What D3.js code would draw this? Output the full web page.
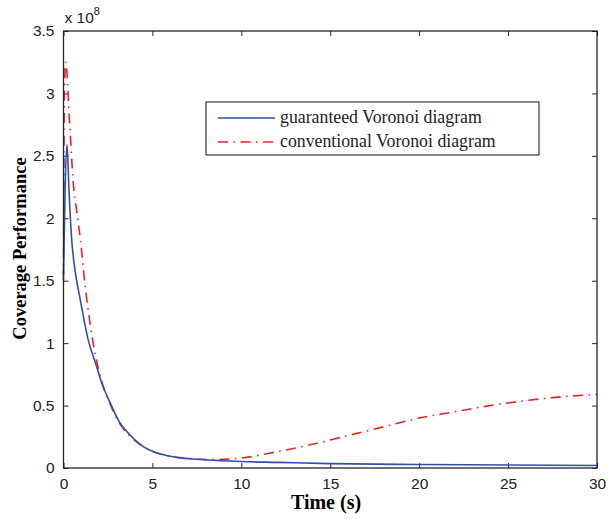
<!DOCTYPE html>
<html>
<head>
<meta charset="utf-8">
<script src="https://cdn.jsdelivr.net/npm/d3@7"></script>
<style>
  body { margin: 0; background: #fff; }
  svg { display: block; }
  .tick text { font-family: "Liberation Sans", Arial, sans-serif; font-size: 15.5px; fill: #222; }
</style>
</head>
<body>
<svg id="chart" width="608" height="519"></svg>
<script>
// values in units of 1e8
var blueTime = [0, 0.1, 0.2, 0.3, 0.45, 0.65, 0.9, 1.4, 1.8, 2.2, 2.6, 3.1, 3.7, 4.3, 4.9, 5.5, 6.5, 7.5, 9, 10, 12, 15, 20, 25, 30];
var blueValues = [1.55, 2.3, 2.59, 2.25, 1.85, 1.58, 1.38, 1.02, 0.84, 0.66, 0.53, 0.38, 0.27, 0.19, 0.14, 0.11, 0.083, 0.07, 0.058, 0.052, 0.045, 0.035, 0.028, 0.024, 0.02];
var redTime = [0, 0.05, 0.12, 0.35, 0.55, 0.75, 0.95, 1.2, 1.5, 1.8, 2.2, 2.6, 3.1, 3.7, 4.3, 4.9, 5.5, 6.5, 7.5, 8.5, 10, 12, 14, 16, 18, 20, 22, 24, 26, 28, 30];
var redValues = [1.5, 3.0, 3.25, 2.75, 2.28, 2.05, 1.83, 1.48, 1.15, 0.9, 0.67, 0.52, 0.37, 0.26, 0.19, 0.14, 0.11, 0.082, 0.07, 0.068, 0.08, 0.13, 0.19, 0.26, 0.33, 0.40, 0.45, 0.50, 0.54, 0.57, 0.59];
var xTicks = [0, 5, 10, 15, 20, 25, 30];
var yTicks = [0, 0.5, 1, 1.5, 2, 2.5, 3, 3.5];
var seriesNames = ['guaranteed Voronoi diagram', 'conventional Voronoi diagram'];

var svg = d3.select('#chart');
var plotLeft = 63.5, plotRight = 597, plotTop = 31, plotBottom = 468;

var x = d3.scaleLinear().domain([0, 30]).range([plotLeft, plotRight]);
var y = d3.scaleLinear().domain([0, 3.5]).range([plotBottom, plotTop]);

var BLUE = '#2f4fae';
var RED = '#ee2027';
var AXIS = '#262626';
var DASHDOT = '10,5.5,1.5,5.5';

// axes, ticks pointing inward
svg.append('g')
  .attr('transform', 'translate(0,' + plotBottom + ')')
  .call(d3.axisBottom(x).tickValues(xTicks).tickSizeInner(-5).tickSizeOuter(0).tickPadding(10))
  .call(function(g) { g.select('.domain').remove(); });
svg.append('g')
  .attr('transform', 'translate(0,' + plotTop + ')')
  .call(d3.axisTop(x).tickValues(xTicks).tickSizeInner(-5).tickSizeOuter(0).tickFormat(''))
  .call(function(g) { g.select('.domain').remove(); });
svg.append('g')
  .attr('transform', 'translate(' + plotLeft + ',0)')
  .call(d3.axisLeft(y).tickValues(yTicks).tickSizeInner(-5).tickSizeOuter(0).tickPadding(9).tickFormat(d3.format('')))
  .call(function(g) { g.select('.domain').remove(); });
svg.append('g')
  .attr('transform', 'translate(' + plotRight + ',0)')
  .call(d3.axisRight(y).tickValues(yTicks).tickSizeInner(-5).tickSizeOuter(0).tickFormat(''))
  .call(function(g) { g.select('.domain').remove(); });
svg.selectAll('.tick line').attr('stroke', AXIS);

var line = d3.line()
  .x(function(d) { return x(d[0]); })
  .y(function(d) { return y(d[1]); })
  .curve(d3.curveMonotoneX);

svg.append('path')
  .datum(d3.zip(redTime, redValues))
  .attr('d', line)
  .attr('fill', 'none')
  .attr('stroke', RED)
  .attr('stroke-width', 1.6)
  .attr('stroke-dasharray', DASHDOT);

svg.append('path')
  .datum(d3.zip(blueTime, blueValues))
  .attr('d', line)
  .attr('fill', 'none')
  .attr('stroke', BLUE)
  .attr('stroke-width', 1.6);

// frame
svg.append('rect')
  .attr('x', plotLeft).attr('y', plotTop)
  .attr('width', plotRight - plotLeft).attr('height', plotBottom - plotTop)
  .attr('fill', 'none')
  .attr('stroke', AXIS)
  .attr('stroke-width', 1.3);

// exponent label
var expo = svg.append('text')
  .attr('x', plotLeft + 1).attr('y', 23)
  .attr('font-family', '"Liberation Sans", Arial, sans-serif')
  .attr('font-size', 15.5)
  .attr('fill', '#222');
expo.append('tspan').text('x 10');
expo.append('tspan').attr('dy', -8).attr('font-size', 11).text('8');

// axis labels
svg.append('text')
  .attr('x', 326).attr('y', 509)
  .attr('text-anchor', 'middle')
  .attr('font-family', '"Liberation Serif", "Times New Roman", serif')
  .attr('font-weight', 'bold')
  .attr('font-size', 20)
  .text('Time (s)');

svg.append('text')
  .attr('transform', 'translate(26,' + ((plotTop + plotBottom) / 2 - 1) + ') rotate(-90)')
  .attr('text-anchor', 'middle')
  .attr('font-family', '"Liberation Serif", "Times New Roman", serif')
  .attr('font-weight', 'bold')
  .attr('font-size', 18.5)
  .text('Coverage Performance');

// legend
var legend = svg.append('g');
legend.append('rect')
  .attr('x', 206).attr('y', 102)
  .attr('width', 333).attr('height', 53)
  .attr('fill', '#fff')
  .attr('stroke', AXIS)
  .attr('stroke-width', 1.1);

var legendColors = [BLUE, RED];
var legendDash = [null, DASHDOT];
seriesNames.forEach(function(name, i) {
  var ly = 118 + i * 24;
  legend.append('line')
    .attr('x1', 218).attr('x2', 275)
    .attr('y1', ly).attr('y2', ly)
    .attr('stroke', legendColors[i])
    .attr('stroke-width', 1.6)
    .attr('stroke-dasharray', legendDash[i]);
  legend.append('text')
    .attr('x', 280).attr('y', ly + 5)
    .attr('font-family', '"Liberation Serif", "Times New Roman", serif')
    .attr('font-size', 17.8)
    .attr('fill', '#222')
    .text(name);
});
</script>
</body>
</html>
